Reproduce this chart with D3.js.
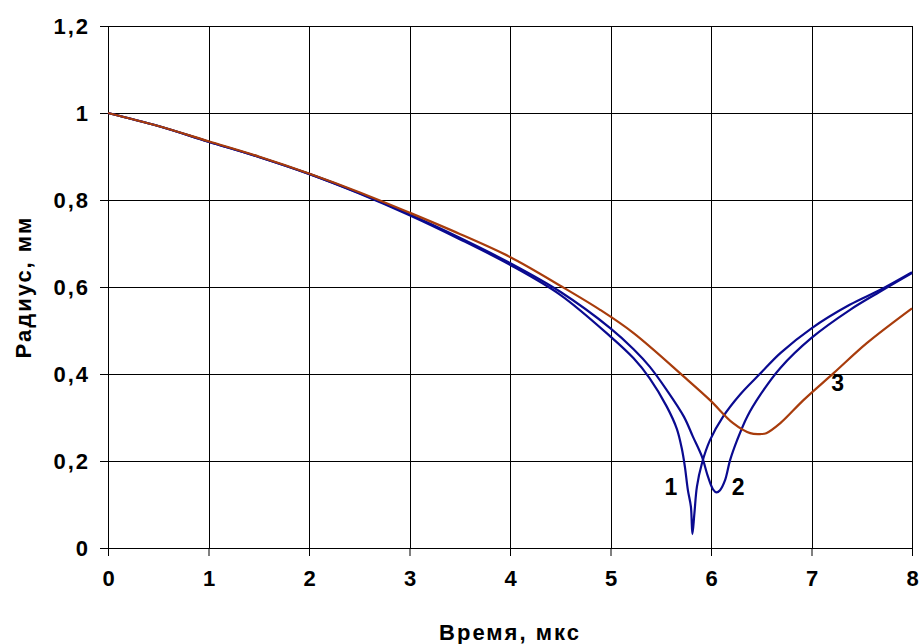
<!DOCTYPE html>
<html>
<head>
<meta charset="utf-8">
<script src="https://cdn.jsdelivr.net/npm/d3@7"></script>
<style>
  body { margin: 0; background: #fff; }
  text { font-family: Arial, "Liberation Sans", sans-serif; font-weight: bold; }
</style>
</head>
<body>
<div id="chart"></div>
<script>
        // Data
        const xTicks = [0, 1, 2, 3, 4, 5, 6, 7, 8];
        const yTicks = [0, 0.2, 0.4, 0.6, 0.8, 1, 1.2];

        const t1 = [0, 0.5, 1, 1.5, 2, 2.5, 3, 3.5, 4, 4.5, 5, 5.23, 5.39, 5.56, 5.66, 5.71, 5.74, 5.77, 5.8, 5.815, 5.835, 5.86, 5.91, 5.99, 6.12, 6.29, 6.49, 6.69, 7.0, 7.38, 7.68, 8];
        const r1 = [1, 0.97, 0.934, 0.899, 0.86, 0.815, 0.765, 0.71, 0.651, 0.582, 0.486, 0.436, 0.39, 0.325, 0.274, 0.228, 0.187, 0.133, 0.095, 0.032, 0.08, 0.141, 0.195, 0.248, 0.302, 0.353, 0.401, 0.448, 0.505, 0.559, 0.593, 0.634];

        const t2 = [0, 0.5, 1, 1.5, 2, 2.5, 3, 3.5, 4, 4.5, 5, 5.23, 5.39, 5.56, 5.73, 5.82, 5.91, 5.97, 6.02, 6.055, 6.09, 6.14, 6.19, 6.26, 6.36, 6.49, 6.69, 7.0, 7.38, 7.68, 8];
        const r2 = [1, 0.97, 0.934, 0.899, 0.86, 0.816, 0.767, 0.713, 0.655, 0.589, 0.505, 0.457, 0.417, 0.363, 0.302, 0.256, 0.21, 0.164, 0.135, 0.128, 0.133, 0.156, 0.202, 0.248, 0.302, 0.352, 0.414, 0.483, 0.547, 0.589, 0.632];

        const t3 = [0, 0.5, 1, 1.5, 2, 2.5, 3, 3.5, 4, 4.5, 4.9, 5.23, 5.73, 5.99, 6.22, 6.39, 6.49, 6.55, 6.69, 6.92, 7.22, 7.55, 8];
        const r3 = [1, 0.97, 0.935, 0.9, 0.861, 0.818, 0.771, 0.722, 0.669, 0.603, 0.547, 0.494, 0.394, 0.34, 0.287, 0.264, 0.262, 0.264, 0.287, 0.34, 0.402, 0.471, 0.551];

        const seriesNames = ["1", "2", "3"];
        const labelAt = [[5.60, 0.122], [6.27, 0.122], [7.26, 0.361]];

        const series = [
            { name: seriesNames[0], t: t1, r: r1, color: "#0a0a90" },
            { name: seriesNames[1], t: t2, r: r2, color: "#0a0a90" },
            { name: seriesNames[2], t: t3, r: r3, color: "#a83c0c" }
        ];

        // Chart dimensions
        const width = 921;
        const height = 644;
        const margin = { top: 26, right: 9, bottom: 96, left: 108 };

        const svg = d3.select("#chart")
            .append("svg")
            .attr("width", width)
            .attr("height", height);

        const x = d3.scaleLinear().domain([0, 8]).range([margin.left, width - margin.right]);
        const y = d3.scaleLinear().domain([0, 1.2]).range([height - margin.bottom, margin.top]);

        const fmt = d => String(d).replace(".", ",");

        // Grid lines
        svg.append("g")
            .selectAll("line")
            .data(xTicks.slice(1))
            .enter()
            .append("line")
            .attr("x1", d => Math.round(x(d)) + 0.5)
            .attr("x2", d => Math.round(x(d)) + 0.5)
            .attr("y1", y(1.2))
            .attr("y2", y(0))
            .attr("stroke", "#000");

        svg.append("g")
            .selectAll("line")
            .data(yTicks.slice(1))
            .enter()
            .append("line")
            .attr("x1", x(0))
            .attr("x2", x(8))
            .attr("y1", d => Math.round(y(d)) + 0.5)
            .attr("y2", d => Math.round(y(d)) + 0.5)
            .attr("stroke", "#000");

        // Axes
        const xAxis = svg.append("g")
            .attr("transform", `translate(0,${y(0)})`)
            .call(d3.axisBottom(x).tickValues(xTicks).tickFormat(fmt).tickSize(8).tickSizeOuter(0));

        const yAxis = svg.append("g")
            .attr("transform", `translate(${x(0)},0)`)
            .call(d3.axisLeft(y).tickValues(yTicks).tickFormat(fmt).tickSize(8).tickSizeOuter(0));

        [xAxis, yAxis].forEach(a => {
            a.select(".domain").attr("stroke", "#000");
            a.selectAll(".tick line").attr("stroke", "#000");
            a.selectAll("text")
                .attr("font-size", "22px")
                .attr("fill", "#000")
                .style("letter-spacing", "2px");
        });
        xAxis.selectAll("text").attr("y", 22).attr("dx", "1px");
        yAxis.selectAll("text").attr("x", -18).attr("dy", "0.36em");

        // Lines
        const line = d3.line()
            .x(d => x(d[0]))
            .y(d => y(d[1]))
            .curve(d3.curveCatmullRom.alpha(0.5));

        svg.append("g")
            .selectAll("path")
            .data(series)
            .enter()
            .append("path")
            .attr("d", s => line(s.t.map((tv, i) => [tv, s.r[i]])))
            .attr("fill", "none")
            .attr("stroke", s => s.color)
            .attr("stroke-width", 2.2)
            .attr("stroke-linejoin", "round");

        // Curve labels
        svg.append("g")
            .selectAll("text")
            .data(series)
            .enter()
            .append("text")
            .attr("x", (s, i) => x(labelAt[i][0]))
            .attr("y", (s, i) => y(labelAt[i][1]))
            .attr("text-anchor", "middle")
            .attr("font-size", "23px")
            .text(s => s.name);

        // Axis titles
        svg.append("text")
            .attr("x", (x(0) + x(8)) / 2)
            .attr("y", 640)
            .attr("text-anchor", "middle")
            .attr("font-size", "22px")
            .style("letter-spacing", "2px")
            .text("Время, мкс");

        svg.append("text")
            .attr("transform", `translate(31,${(y(0) + y(1.2)) / 2}) rotate(-90)`)
            .attr("text-anchor", "middle")
            .attr("font-size", "22px")
            .style("letter-spacing", "2px")
            .text("Радиус, мм");
</script>
</body>
</html>
